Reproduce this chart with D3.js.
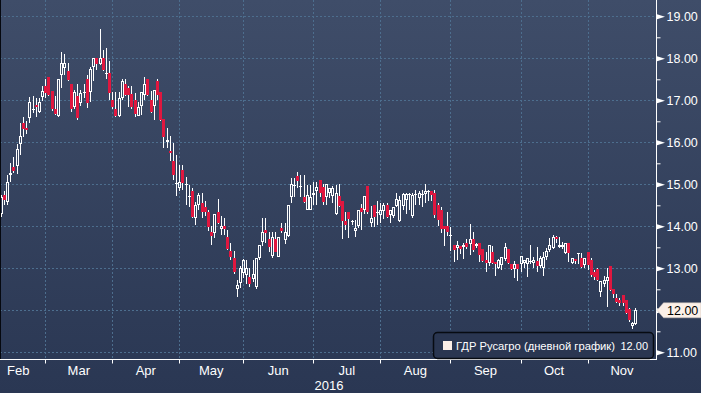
<!DOCTYPE html>
<html>
<head>
<meta charset="utf-8">
<script src="https://cdn.jsdelivr.net/npm/d3@7"></script>
<style>
body{margin:0;background:#2c3a56;overflow:hidden}
text{font-family:"Liberation Sans",Arial,sans-serif}
</style>
</head>
<body>
<script>
//----------------------------------------------------------------DATA
// daily candles, each one is [open, high, low, close]
var feb = [
	[14.30,14.75,14.23,14.70],[14.75,14.85,14.50,14.63],[14.59,15.21,14.51,15.05],[15.22,15.50,15.06,15.26],
	[15.42,15.66,15.26,15.32],[15.44,15.96,15.25,15.84],[15.95,16.47,15.70,16.15],[16.45,16.60,16.12,16.32],
	[16.34,16.51,16.20,16.29],[16.57,17.09,16.47,16.96],[16.78,17.10,16.69,16.80],[16.89,17.06,16.61,16.83],
	[16.73,17.05,16.70,16.96],[17.08,17.34,16.98,17.21]
]
var mar = [
	[17.34,17.50,17.06,17.18],[17.56,17.56,17.10,17.13],[17.21,17.21,16.75,16.79],[16.79,17.10,16.65,16.67],
	[16.63,17.50,16.60,17.50],[17.60,18.14,17.29,17.88],[17.78,18.10,17.60,17.88],[17.70,17.88,17.45,17.48],
	[17.39,17.39,16.71,16.79],[16.83,17.25,16.79,17.19],[17.10,17.39,16.52,16.59],[16.94,17.25,16.86,17.17],
	[17.17,17.39,17.05,17.19],[17.50,17.60,16.81,16.94],[17.19,17.79,16.97,17.74],[17.79,18.00,17.47,18.00],
	[18.00,18.00,17.72,17.87],[17.87,18.69,17.84,18.00],[18.00,18.20,17.70,17.72],[17.63,18.24,17.50,17.65],
	[17.64,17.94,17.00,17.18]
]
var apr = [
	[17.00,17.19,16.80,16.83],[16.79,17.19,16.60,16.63],[16.63,17.19,16.61,17.05],[17.05,17.50,17.00,17.45],
	[17.39,17.50,17.10,17.12],[17.29,17.34,16.85,17.13],[17.14,17.34,16.80,16.83],[17.00,17.17,16.61,16.67],
	[16.63,16.97,16.62,16.83],[16.87,17.19,16.65,17.19],[17.13,17.56,17.00,17.39],[17.50,17.50,17.10,17.13],
	[17.00,17.21,16.70,16.73],[16.87,17.25,16.52,17.25],[17.46,17.50,17.00,17.13],[17.19,17.19,16.50,16.53],
	[16.55,16.55,15.86,16.13],[16.00,16.33,15.86,16.06],[15.79,16.15,15.55,15.74],[15.56,15.99,15.10,15.22],
	[15.00,15.70,14.71,15.02]
]
var may = [
	[14.90,15.46,14.85,15.05],[15.34,15.46,14.86,15.02],[15.00,15.18,14.50,15.00],[14.69,14.98,14.47,14.71],
	[14.84,14.90,14.20,14.23],[14.19,14.59,14.02,14.50],[14.50,14.79,14.40,14.75],[14.55,14.79,14.19,14.33],
	[14.47,14.60,14.25,14.33],[14.34,14.40,13.88,13.99],[13.86,14.00,13.56,13.78],[13.85,14.29,13.71,14.29],
	[14.35,14.64,14.05,14.07],[13.94,14.25,13.79,14.01],[14.01,14.19,13.79,13.94],[13.74,13.91,13.43,13.45],
	[13.41,13.60,13.20,13.28],[13.25,13.41,12.87,12.90],[12.50,12.72,12.31,12.60],[12.64,13.06,12.52,13.00]
]
var jun = [
	[12.88,13.22,12.78,13.20],[12.84,13.20,12.63,13.00],[12.80,13.00,12.56,12.63],[12.75,13.20,12.68,12.86],
	[12.56,13.24,12.50,13.24],[13.24,13.56,13.20,13.56],[13.63,14.19,13.52,13.87],[13.91,14.19,13.60,13.85],
	[13.70,13.87,13.40,13.50],[13.29,13.87,13.25,13.75],[13.70,13.87,13.38,13.40],[13.28,13.75,13.27,13.74],
	[13.95,14.07,13.85,13.90],[13.67,14.07,13.57,13.87],[13.78,14.51,13.75,14.51],[14.69,15.14,14.56,15.00],
	[14.96,15.14,14.69,14.98],[15.20,15.30,14.90,15.09],[14.95,15.22,14.69,14.97],[14.69,15.22,14.55,14.59],
	[14.40,14.98,14.38,14.75],[14.40,14.98,14.38,14.69]
]
var jul = [
	[14.74,15.06,14.50,14.79],[14.83,15.06,14.50,14.94],[15.10,15.10,14.70,14.79],[14.94,15.00,14.50,14.59],
	[14.69,15.00,14.50,15.00],[14.79,14.90,14.67,14.90],[14.71,14.96,14.55,14.90],[14.29,14.98,14.27,14.79],
	[14.71,15.00,14.45,14.48],[14.60,14.60,13.70,14.13],[14.13,14.35,13.91,14.03],[14.33,14.33,13.71,14.17],
	[14.10,14.15,14.03,14.12],[13.90,14.15,13.75,13.97],[14.00,14.40,13.95,14.40],[14.44,14.52,13.91,14.33],
	[14.40,14.72,14.30,14.72],[14.96,14.96,14.30,14.33],[14.09,14.48,13.98,14.19],[14.50,14.50,13.98,14.23],
	[14.32,14.60,14.03,14.34]
]
var aug = [
	[14.27,14.55,14.07,14.39],[14.37,14.56,14.17,14.50],[14.50,14.55,14.20,14.23],[14.27,14.40,14.07,14.40],
	[14.25,14.45,14.20,14.45],[14.48,14.80,14.45,14.65],[14.13,14.72,14.10,14.63],[14.48,14.80,14.40,14.76],
	[14.63,14.80,14.30,14.76],[14.74,14.80,14.40,14.76],[14.25,14.79,14.20,14.75],[14.76,14.87,14.50,14.77],
	[14.67,14.83,14.50,14.79],[14.74,14.87,14.45,14.76],[14.77,15.00,14.56,14.83],[14.82,14.87,14.60,14.83],
	[14.83,14.83,14.60,14.75],[14.79,14.87,14.20,14.27],[14.51,14.55,14.00,14.15],[14.40,14.45,13.85,13.93],
	[14.00,14.00,13.53,13.93],[14.00,14.35,13.77,13.87]
]
var sep = [
	[13.78,13.99,13.42,13.80],[13.56,13.56,13.16,13.44],[13.48,13.66,13.20,13.56],[13.52,13.52,13.35,13.45],
	[13.50,13.61,13.21,13.56],[13.61,13.69,13.45,13.50],[13.58,14.06,13.32,13.69],[13.69,13.87,13.40,13.44],
	[13.53,13.61,13.48,13.58],[13.60,13.60,13.16,13.32],[13.45,13.45,13.15,13.18],[13.20,13.40,12.92,13.12],
	[13.13,13.56,13.06,13.56],[13.40,13.53,13.10,13.13],[13.16,13.16,12.82,13.10],[13.00,13.22,12.98,13.20],
	[13.08,13.28,12.96,13.28],[13.21,13.61,13.18,13.50],[13.45,13.45,13.10,13.12],[13.10,13.10,12.95,12.98],
	[12.98,13.18,12.76,13.10],[13.10,13.10,12.70,12.98]
]
var oct = [
	[13.10,13.29,12.92,13.29],[13.12,13.20,13.00,13.20],[13.10,13.24,12.80,13.24],[13.15,13.56,13.10,13.17],
	[13.12,13.28,13.00,13.20],[13.18,13.50,12.92,13.06],[13.06,13.30,13.00,13.24],[13.00,13.40,12.82,13.26],
	[13.28,13.48,13.20,13.41],[13.44,13.71,13.40,13.56],[13.48,13.79,13.45,13.75],[13.75,13.77,13.60,13.69],
	[13.50,13.75,13.48,13.56],[13.50,13.63,13.45,13.56],[13.36,13.61,13.33,13.61],[13.61,13.61,13.16,13.36],
	[13.13,13.25,13.10,13.25],[13.22,13.22,13.10,13.18],[13.35,13.36,13.10,13.36],[13.25,13.36,13.00,13.04],
	[13.08,13.25,13.00,13.25]
]
var nov = [
	[13.40,13.40,12.95,13.08],[13.20,13.25,12.80,12.84],[12.92,12.95,12.71,12.79],[12.98,13.00,12.70,12.72],
	[12.44,12.70,12.31,12.70],[12.63,12.82,12.55,12.72],[12.70,13.00,12.07,12.80],[13.06,13.06,12.45,12.48],
	[12.50,12.50,12.30,12.39],[12.30,12.40,12.18,12.20],[12.25,12.30,12.10,12.18],[12.37,12.37,12.10,12.18],
	[12.25,12.25,11.92,11.94],[12.02,12.05,11.73,11.77],[11.63,11.73,11.55,11.69],[11.67,12.05,11.65,12.00]
]

var monthNames = ["Feb","Mar","Apr","May","Jun","Jul","Aug","Sep","Oct","Nov"]
var monthData = [feb, mar, apr, may, jun, jul, aug, sep, oct, nov]
var priceTicks = [11,12,13,14,15,16,17,18,19]
var halfTicks = [11.5,12.5,13.5,14.5,15.5,16.5,17.5,18.5]
var lastPrice = 12.00
var legendName = "ГДР Русагро (дневной график)"
var yearLabel = "2016"

//----------------------------------------------------------------LAYOUT
var W = 701, H = 393
var axisX = 656.5   // right price axis
var axisY = 359.5   // bottom time axis
var slots = 205.6   // day slots that fit between the left edge and the price axis
var upColor = "#ffffff", downColor = "#e0173f", gridColor = "#4d6e8e"

// flatten months into one list of days, remember first day of each month
var candles = [], monthStart = []
monthData.forEach(function(m){
	monthStart.push(candles.length)
	m.forEach(function(d){ candles.push({o:d[0], h:d[1], l:d[2], c:d[3]}) })
})

var x = d3.scaleLinear().domain([0, slots]).range([0.64, axisX])
var y = d3.scaleLinear().domain([11, 19]).range([352.3, 16.3])

var svg = d3.select("body").append("svg").attr("width", W).attr("height", H)

var grad = svg.append("defs").append("linearGradient").attr("id","bg")
	.attr("x1",0).attr("y1",0).attr("x2",0).attr("y2",1)
grad.append("stop").attr("offset","0%").attr("stop-color","#3f4d69")
grad.append("stop").attr("offset","100%").attr("stop-color","#2a3753")
svg.append("rect").attr("width",W).attr("height",H).attr("fill","url(#bg)")

//----------------------------------------------------------------GRID
svg.append("g").selectAll("line").data(priceTicks).enter().append("line")
	.attr("x1",0).attr("x2",axisX)
	.attr("y1",function(d){return Math.round(y(d))+0.5}).attr("y2",function(d){return Math.round(y(d))+0.5})
	.attr("stroke",gridColor).attr("stroke-dasharray","2,2")

svg.append("g").selectAll("line").data(monthStart.slice(1)).enter().append("line")
	.attr("x1",function(d){return Math.round(x(d))+0.5}).attr("x2",function(d){return Math.round(x(d))+0.5})
	.attr("y1",0).attr("y2",axisY)
	.attr("stroke",gridColor).attr("stroke-dasharray","2,2")

//----------------------------------------------------------------CANDLES
var plot = svg.append("g")
candles.forEach(function(d,i){
	var px = Math.round(x(i))
	var yh = Math.round(y(d.h)), yl = Math.round(y(d.l))
	var yo = Math.round(y(d.o)), yc = Math.round(y(d.c))
	var top = Math.min(yo,yc), bot = Math.max(yo,yc)
	if(d.c >= d.o){
		// hollow body, wick only outside it
		plot.append("line").attr("x1",px+0.5).attr("x2",px+0.5).attr("y1",yh).attr("y2",top)
			.attr("stroke",upColor)
		plot.append("line").attr("x1",px+0.5).attr("x2",px+0.5).attr("y1",bot).attr("y2",yl)
			.attr("stroke",upColor)
		if(bot - top < 2){
			plot.append("rect").attr("x",px-1).attr("y",top).attr("width",3).attr("height",1).attr("fill",upColor)
		}else{
			plot.append("rect").attr("x",px-0.5).attr("y",top+0.5).attr("width",2).attr("height",bot-top-1)
				.attr("fill","none").attr("stroke",upColor)
		}
	}else{
		plot.append("line").attr("x1",px+0.5).attr("x2",px+0.5).attr("y1",yh).attr("y2",yl)
			.attr("stroke",upColor)
		plot.append("rect").attr("x",px-1).attr("y",top).attr("width",3).attr("height",Math.max(1,bot-top))
			.attr("fill",downColor)
	}
})

// black edge on the left
svg.append("line").attr("x1",0.5).attr("x2",0.5).attr("y1",0).attr("y2",axisY).attr("stroke","#05080f")

//----------------------------------------------------------------AXES
var xAxis = svg.append("g").attr("transform","translate(0,"+axisY+")")
	.call(d3.axisBottom(x).tickValues(monthStart.slice(1)).tickSize(4).tickSizeOuter(0).tickFormat(""))
xAxis.select(".domain").attr("stroke","#fff").attr("d","M0,0H"+axisX)
xAxis.selectAll(".tick line").attr("stroke","#fff")
xAxis.selectAll(".tick").attr("transform",function(d){return "translate("+(Math.round(x(d))+0.5)+",0)"})

// month names centred in their spans, Feb is cut short on the left
var bounds = monthStart.concat([slots])
svg.append("g").selectAll("text").data(monthNames).enter().append("text")
	.attr("x",function(d,i){ var a = i == 0 ? x(-3) : x(bounds[i]); return (a + x(bounds[i+1]))/2 })
	.attr("y",374.5).attr("text-anchor","middle").attr("fill","#fff").attr("font-size","13px")
	.text(function(d){return d})
svg.append("text").attr("x",329).attr("y",390).attr("text-anchor","middle")
	.attr("fill","#fff").attr("font-size","13px").text(yearLabel)

var yAxis = svg.append("g").attr("transform","translate("+axisX+",0)")
	.call(d3.axisRight(y).tickValues(priceTicks).tickSize(0).tickPadding(10).tickFormat(d3.format(".2f")))
yAxis.select(".domain").remove()
yAxis.selectAll("text").attr("fill","#fff").attr("font-size","12.5px").attr("font-family","Liberation Sans, Arial, sans-serif")
yAxis.selectAll(".tick").append("path").attr("d","M0.5,-2.5L8.5,0L0.5,2.5Z").attr("fill","#fff")

var yMinor = svg.append("g").attr("transform","translate("+axisX+",0)")
	.call(d3.axisRight(y).tickValues(halfTicks).tickSize(4).tickFormat(""))
yMinor.select(".domain").remove()
yMinor.selectAll("line").attr("stroke","#fff")

svg.append("line").attr("x1",axisX).attr("x2",axisX).attr("y1",0).attr("y2",axisY+0.5).attr("stroke","#fff")

// last price flag
var yp = y(lastPrice)
svg.append("path")
	.attr("d","M"+(axisX+0.5)+","+yp+"L"+(axisX+7)+","+(yp-7.5)+"H"+W+"V"+(yp+7.5)+"H"+(axisX+7)+"Z")
	.attr("fill","#fcf0e8").attr("stroke","#c9bdb6").attr("stroke-width",0.5)
svg.append("text").attr("x",667).attr("y",yp).attr("dy","0.36em").attr("fill","#000")
	.attr("font-size","12.5px").text(d3.format(".2f")(lastPrice))

//----------------------------------------------------------------LEGEND
var legend = svg.append("g")
legend.append("rect").attr("x",433.5).attr("y",332.5).attr("width",220).attr("height",26).attr("rx",4)
	.attr("fill","#2a3651").attr("stroke","#070b12").attr("stroke-width",1.5)
legend.append("rect").attr("x",443).attr("y",341).attr("width",9).attr("height",9).attr("fill","#fbeee7")
legend.append("text").attr("x",456).attr("y",349.5).attr("fill","#fff").attr("font-size","11px")
	.attr("textLength",159).attr("lengthAdjust","spacingAndGlyphs").text(legendName)
legend.append("text").attr("x",648).attr("y",349.5).attr("text-anchor","end").attr("fill","#fff")
	.attr("font-size","11px").text(d3.format(".2f")(lastPrice))
</script>
</body>
</html>
